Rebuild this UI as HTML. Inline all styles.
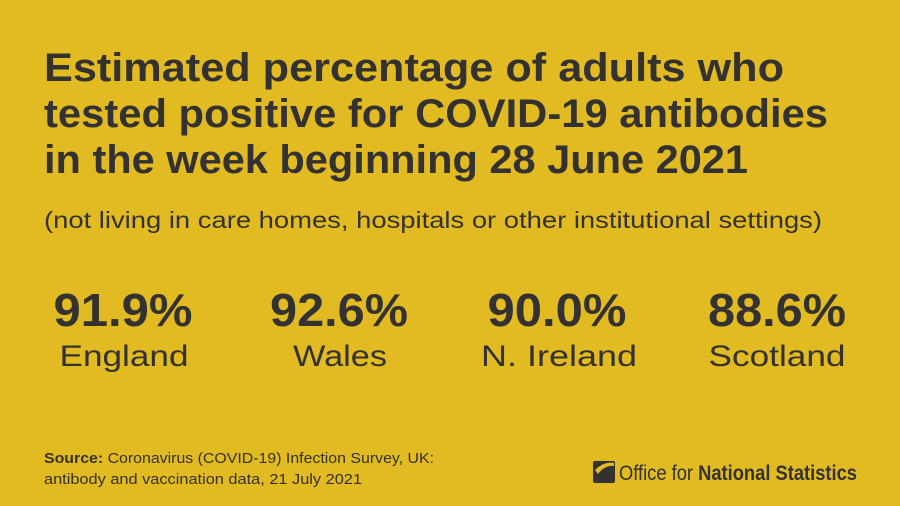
<!DOCTYPE html>
<html><head><meta charset="utf-8"><style>
html,body{margin:0;padding:0;background:#E2BA22;}
svg{display:block;font-family:"Liberation Sans",sans-serif;}
</style></head><body>
<svg width="900" height="506" viewBox="0 0 900 506">
<rect width="900" height="506" fill="#E2BA22"/>
<g fill="#333230" font-weight="bold" font-size="40">
<text x="44" y="81" textLength="740" lengthAdjust="spacingAndGlyphs">Estimated percentage of adults who</text>
<text x="44" y="127" textLength="784" lengthAdjust="spacingAndGlyphs">tested positive for COVID-19 antibodies</text>
<text x="44" y="173" textLength="704" lengthAdjust="spacingAndGlyphs">in the week beginning 28 June 2021</text>
</g>
<text x="44" y="228" fill="#333230" font-size="23" textLength="778" lengthAdjust="spacingAndGlyphs">(not living in care homes, hospitals or other institutional settings)</text>
<g fill="#333230">
<g>
<text x="123" y="326" text-anchor="middle" font-weight="bold" font-size="46" textLength="139" lengthAdjust="spacingAndGlyphs">91.9%</text>
<text x="124" y="366" text-anchor="middle" font-size="30" textLength="129" lengthAdjust="spacingAndGlyphs">England</text></g>
<g>
<text x="339" y="326" text-anchor="middle" font-weight="bold" font-size="46" textLength="138" lengthAdjust="spacingAndGlyphs">92.6%</text>
<text x="340" y="366" text-anchor="middle" font-size="30" textLength="94" lengthAdjust="spacingAndGlyphs">Wales</text></g>
<g>
<text x="557" y="326" text-anchor="middle" font-weight="bold" font-size="46" textLength="139" lengthAdjust="spacingAndGlyphs">90.0%</text>
<text x="559" y="366" text-anchor="middle" font-size="30" textLength="156" lengthAdjust="spacingAndGlyphs">N. Ireland</text></g>
<g>
<text x="777" y="326" text-anchor="middle" font-weight="bold" font-size="46" textLength="138" lengthAdjust="spacingAndGlyphs">88.6%</text>
<text x="777" y="366" text-anchor="middle" font-size="30" textLength="137" lengthAdjust="spacingAndGlyphs">Scotland</text></g>
</g>
<g fill="#333230" font-size="15">
<text x="44" y="463" textLength="390" lengthAdjust="spacingAndGlyphs"><tspan font-weight="bold">Source:</tspan> Coronavirus (COVID-19) Infection Survey, UK:</text>
<text x="44" y="484" textLength="318" lengthAdjust="spacingAndGlyphs">antibody and vaccination data, 21 July 2021</text>
</g>
<g>
<rect x="593" y="461" width="22" height="22" rx="2" fill="#333230"/>
<path d="M595 470 Q604 461 614 463 L614 466 Q605 465 598 474 Z" fill="#E2BA22"/>
<text x="619" y="480" fill="#333230" font-size="21" textLength="238" lengthAdjust="spacingAndGlyphs">Office for <tspan font-weight="bold">National Statistics</tspan></text>
</g>
</svg>
</body></html>
